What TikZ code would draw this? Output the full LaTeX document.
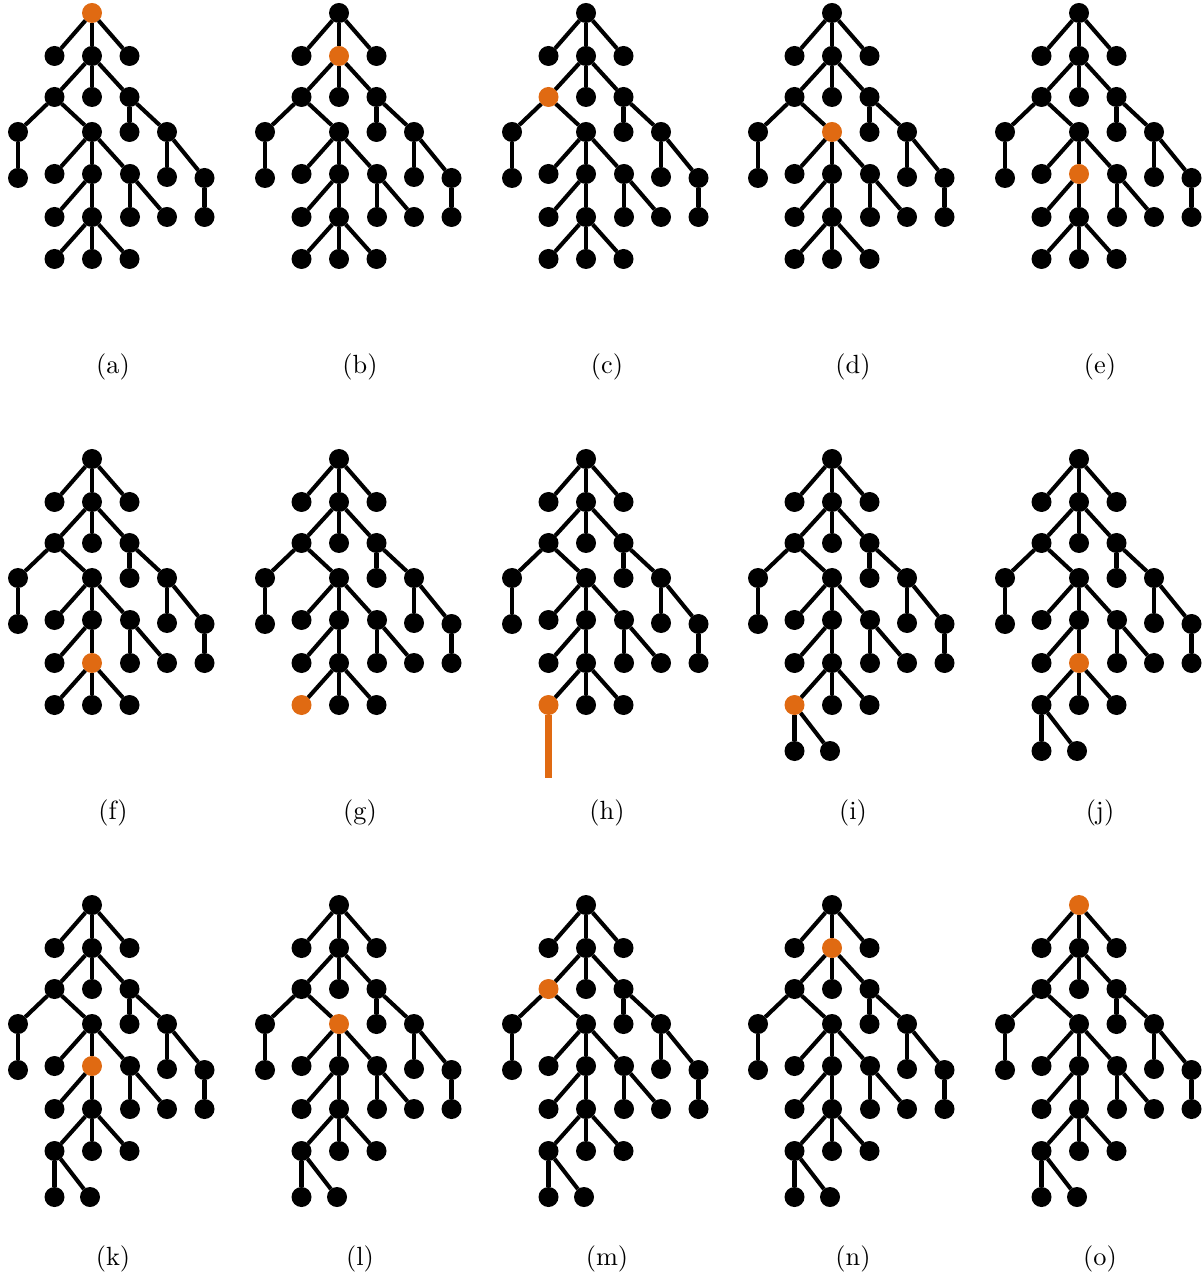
\documentclass[tikz,border=0pt]{standalone}
\definecolor{hlorange}{RGB}{224,106,18}
\tikzset{
  dot/.style={circle, fill=black, draw=none, inner sep=0pt, minimum size=7.6pt, outer sep=0pt},
  edge/.style={line width=1.55pt, black},
  orangeline/.style={line width=2.5pt, hlorange},
  lab/.style={font=\normalsize, inner sep=1pt},
  hlR/.style={}, hlA/.style={}, hlB/.style={}, hlC/.style={}, hlD/.style={},
  hlE/.style={}, hlF/.style={}, hlG/.style={}, hlH/.style={}, hlI/.style={},
  hlJ/.style={}, hlK/.style={}, hlL/.style={}, hlM/.style={}, hlN/.style={},
  hlO/.style={}, hlP/.style={}, hlQ/.style={}, hlS/.style={}, hlT/.style={},
  hlU/.style={}, hlV/.style={}, hlW/.style={}, hlX/.style={}, hlY/.style={},
}
% #1 panel id, #2 x, #3 y, #4 highlighted node, #5 variant (0 plain, 1 orange line, 2 W children)
\newcommand\drawtree[5]{%
\begin{scope}[shift={(#2,#3)}, hl#4/.style={fill=hlorange}]
  \node[dot,hlR] (#1R) at (0,0) {};
  \node[dot,hlA] (#1A) at (-37.5,43) {};
  \node[dot,hlB] (#1B) at (0,43) {};
  \node[dot,hlC] (#1C) at (37.5,43) {};
  \node[dot,hlD] (#1D) at (-37.5,84) {};
  \node[dot,hlE] (#1E) at (0,84) {};
  \node[dot,hlF] (#1F) at (37.5,84) {};
  \node[dot,hlG] (#1G) at (-74,119) {};
  \node[dot,hlH] (#1H) at (0,119) {};
  \node[dot,hlI] (#1I) at (37.5,119) {};
  \node[dot,hlJ] (#1J) at (75,119) {};
  \node[dot,hlK] (#1K) at (-74,165) {};
  \node[dot,hlL] (#1L) at (-37.5,161) {};
  \node[dot,hlM] (#1M) at (0,161) {};
  \node[dot,hlN] (#1N) at (38,161) {};
  \node[dot,hlO] (#1O) at (75,164) {};
  \node[dot,hlP] (#1P) at (112.5,165) {};
  \node[dot,hlQ] (#1Q) at (-37.5,204) {};
  \node[dot,hlS] (#1S) at (0,204) {};
  \node[dot,hlT] (#1T) at (38,204) {};
  \node[dot,hlU] (#1U) at (75,204) {};
  \node[dot,hlV] (#1V) at (112.5,204) {};
  \node[dot,hlW] (#1W) at (-37.5,246) {};
  \node[dot,hlX] (#1X) at (0,246) {};
  \node[dot,hlY] (#1Y) at (37.5,246) {};
  \draw[edge] (#1R) -- (#1A);
  \draw[edge] (#1R) -- (#1B);
  \draw[edge] (#1R) -- (#1C);
  \draw[edge] (#1B) -- (#1D);
  \draw[edge] (#1B) -- (#1E);
  \draw[edge] (#1B) -- (#1F);
  \draw[edge] (#1D) -- (#1G);
  \draw[edge] (#1D) -- (#1H);
  \draw[edge] (#1F) -- (#1I);
  \draw[edge] (#1F) -- (#1J);
  \draw[edge] (#1G) -- (#1K);
  \draw[edge] (#1H) -- (#1L);
  \draw[edge] (#1H) -- (#1M);
  \draw[edge] (#1H) -- (#1N);
  \draw[edge] (#1J) -- (#1O);
  \draw[edge] (#1J) -- (#1P);
  \draw[edge] (#1M) -- (#1Q);
  \draw[edge] (#1M) -- (#1S);
  \draw[edge] (#1N) -- (#1T);
  \draw[edge] (#1N) -- (#1U);
  \draw[edge] (#1P) -- (#1V);
  \draw[edge] (#1S) -- (#1W);
  \draw[edge] (#1S) -- (#1X);
  \draw[edge] (#1S) -- (#1Y);
  \ifcase#5\relax
  \or
    \coordinate (#1end) at (-37.5,319);
    \draw[orangeline] (#1W) -- (#1end);
  \or
    \node[dot] (#1Wa) at (-37.5,292) {};
    \node[dot] (#1Wb) at (-2,292) {};
    \draw[edge] (#1W) -- (#1Wa);
    \draw[edge] (#1W) -- (#1Wb);
  \fi
  \node[lab] (#1lab) at (21,354) {(#1)};
\end{scope}}
\begin{document}
\begin{tikzpicture}[x=0.38pt, y=-0.38pt]
  \useasboundingbox (0,0) rectangle (1203,1276);
  \drawtree{a}{92}{13}{R}{0}
  \drawtree{b}{339}{13}{B}{0}
  \drawtree{c}{586}{13}{D}{0}
  \drawtree{d}{832}{13}{H}{0}
  \drawtree{e}{1079}{13}{M}{0}
  \drawtree{f}{92}{459}{S}{0}
  \drawtree{g}{339}{459}{W}{0}
  \drawtree{h}{586}{459}{W}{1}
  \drawtree{i}{832}{459}{W}{2}
  \drawtree{j}{1079}{459}{S}{2}
  \drawtree{k}{92}{905}{M}{2}
  \drawtree{l}{339}{905}{H}{2}
  \drawtree{m}{586}{905}{D}{2}
  \drawtree{n}{832}{905}{B}{2}
  \drawtree{o}{1079}{905}{R}{2}
\end{tikzpicture}
\end{document}
